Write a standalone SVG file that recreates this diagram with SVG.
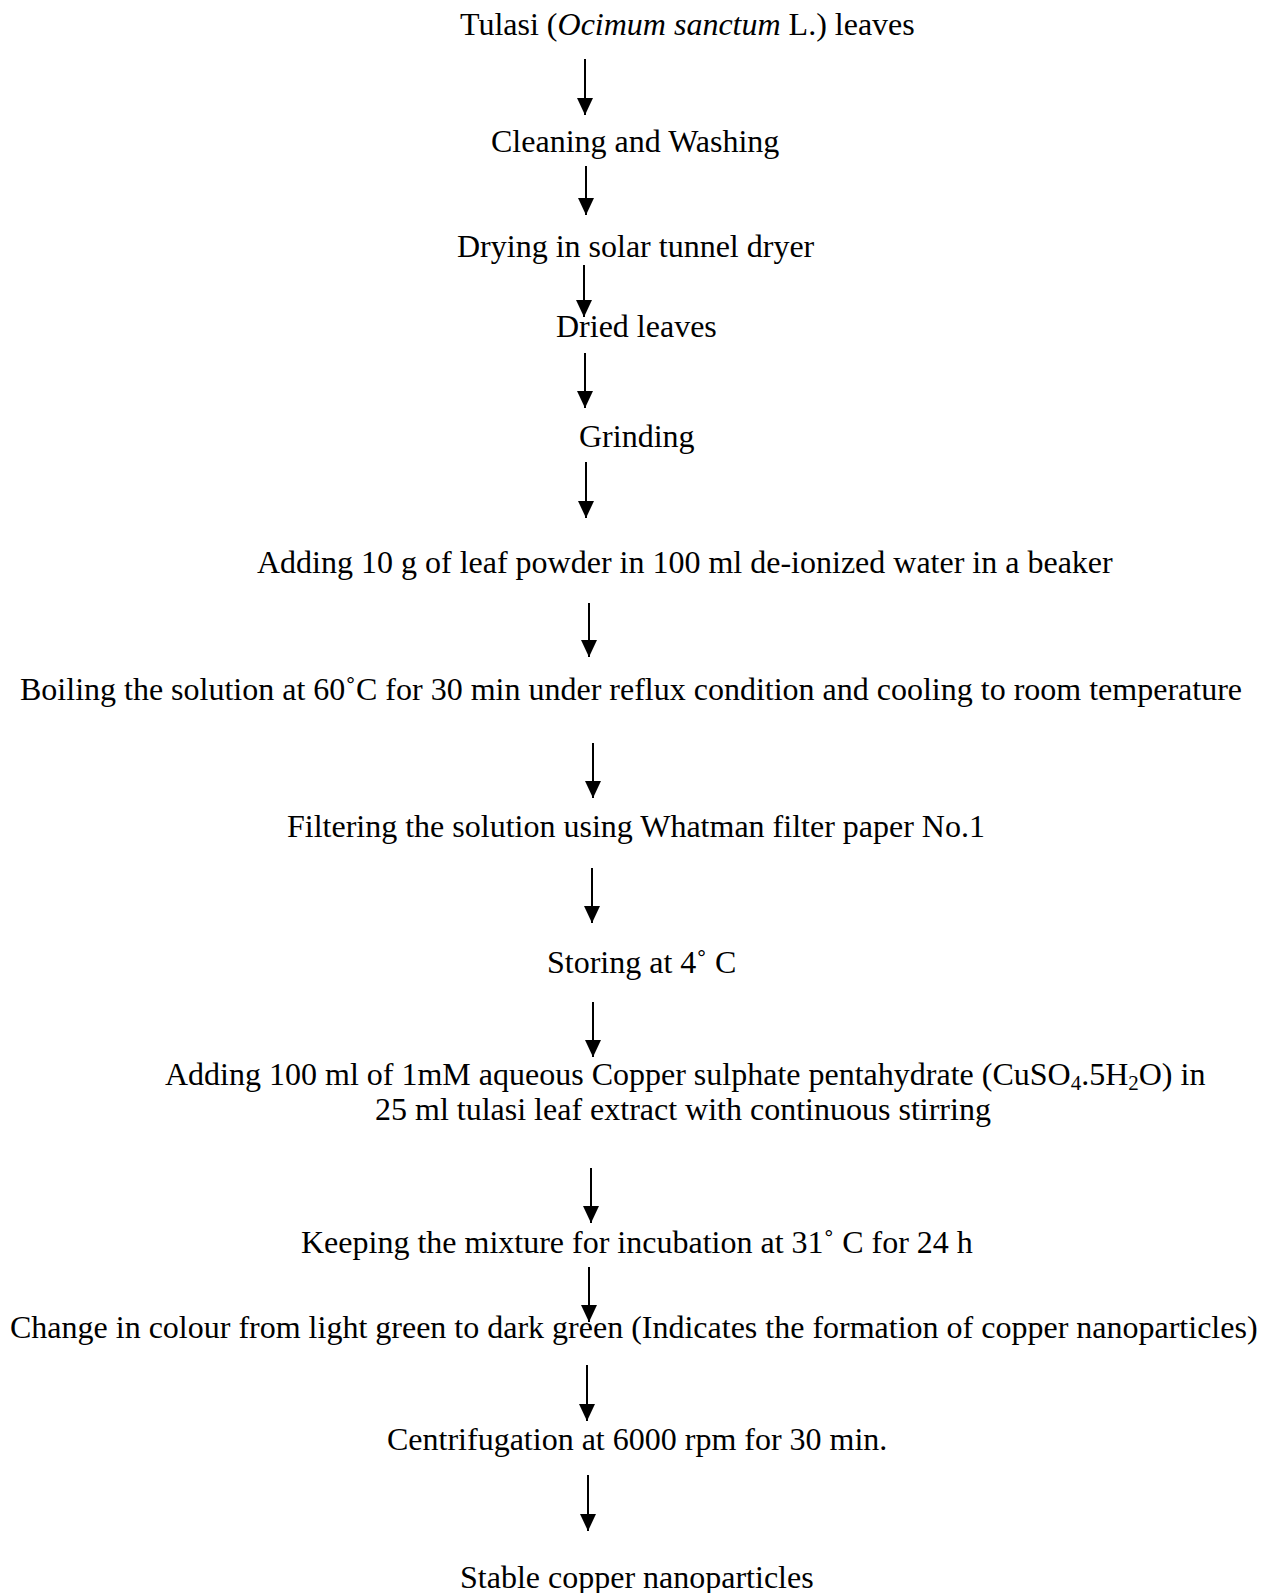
<svg xmlns="http://www.w3.org/2000/svg" width="1263" height="1593" viewBox="0 0 1263 1593">
<style>
text{font-family:"Liberation Serif","Times New Roman",serif;font-size:32px;fill:#000}
.c line{stroke:#000;stroke-width:2}
</style>
<defs>
<marker id="ah" markerUnits="userSpaceOnUse" markerWidth="18" markerHeight="18" viewBox="0 0 18 18" refX="17" refY="9" orient="auto">
<path d="M0,1 L17,9 L0,17 Z" fill="#000"/>
</marker>
</defs>
<rect width="1263" height="1593" fill="#fff"/>
<g id="n1"><text x="460" y="35">Tulasi (<tspan font-style="italic">Ocimum sanctum</tspan> L.) leaves</text></g>
<g id="n2"><text x="491" y="152">Cleaning and Washing</text></g>
<g id="n3"><text x="457" y="257">Drying in solar tunnel dryer</text></g>
<g id="n4"><text x="556" y="337">Dried leaves</text></g>
<g id="n5"><text x="579" y="447">Grinding</text></g>
<g id="n6"><text x="257" y="573">Adding 10 g of leaf powder in 100 ml de-ionized water in a beaker</text></g>
<g id="n7"><text x="20" y="700">Boiling the solution at 60˚C for 30 min under reflux condition and cooling to room temperature</text></g>
<g id="n8"><text x="287" y="837">Filtering the solution using Whatman filter paper No.1</text></g>
<g id="n9"><text x="547" y="973">Storing at 4˚ C</text></g>
<g id="n10"><text x="165" y="1085">Adding 100 ml of 1mM aqueous Copper sulphate pentahydrate (CuSO<tspan font-size="21" dy="5">4</tspan><tspan dy="-5">.5H</tspan><tspan font-size="21" dy="5">2</tspan><tspan dy="-5">O) in</tspan></text><text x="375" y="1120">25 ml tulasi leaf extract with continuous stirring</text></g>
<g id="n11"><text x="301" y="1253">Keeping the mixture for incubation at 31˚ C for 24 h</text></g>
<g id="n12"><text x="10" y="1338">Change in colour from light green to dark green (Indicates the formation of copper nanoparticles)</text></g>
<g id="n13"><text x="387" y="1450">Centrifugation at 6000 rpm for 30 min.</text></g>
<g id="n14"><text x="460" y="1588">Stable copper nanoparticles</text></g>
<g id="connectors" class="c">
<line x1="585" y1="59" x2="585" y2="115" marker-end="url(#ah)"/>
<line x1="586" y1="166" x2="586" y2="215" marker-end="url(#ah)"/>
<line x1="584" y1="265" x2="584" y2="317" marker-end="url(#ah)"/>
<line x1="585" y1="353" x2="585" y2="408" marker-end="url(#ah)"/>
<line x1="586" y1="462" x2="586" y2="518" marker-end="url(#ah)"/>
<line x1="589" y1="603" x2="589" y2="657" marker-end="url(#ah)"/>
<line x1="593" y1="743" x2="593" y2="798" marker-end="url(#ah)"/>
<line x1="592" y1="868" x2="592" y2="923" marker-end="url(#ah)"/>
<line x1="593" y1="1002" x2="593" y2="1057" marker-end="url(#ah)"/>
<line x1="591" y1="1168" x2="591" y2="1223" marker-end="url(#ah)"/>
<line x1="589" y1="1267" x2="589" y2="1322" marker-end="url(#ah)"/>
<line x1="587" y1="1365" x2="587" y2="1421" marker-end="url(#ah)"/>
<line x1="588" y1="1475" x2="588" y2="1531" marker-end="url(#ah)"/>
</g>
</svg>
